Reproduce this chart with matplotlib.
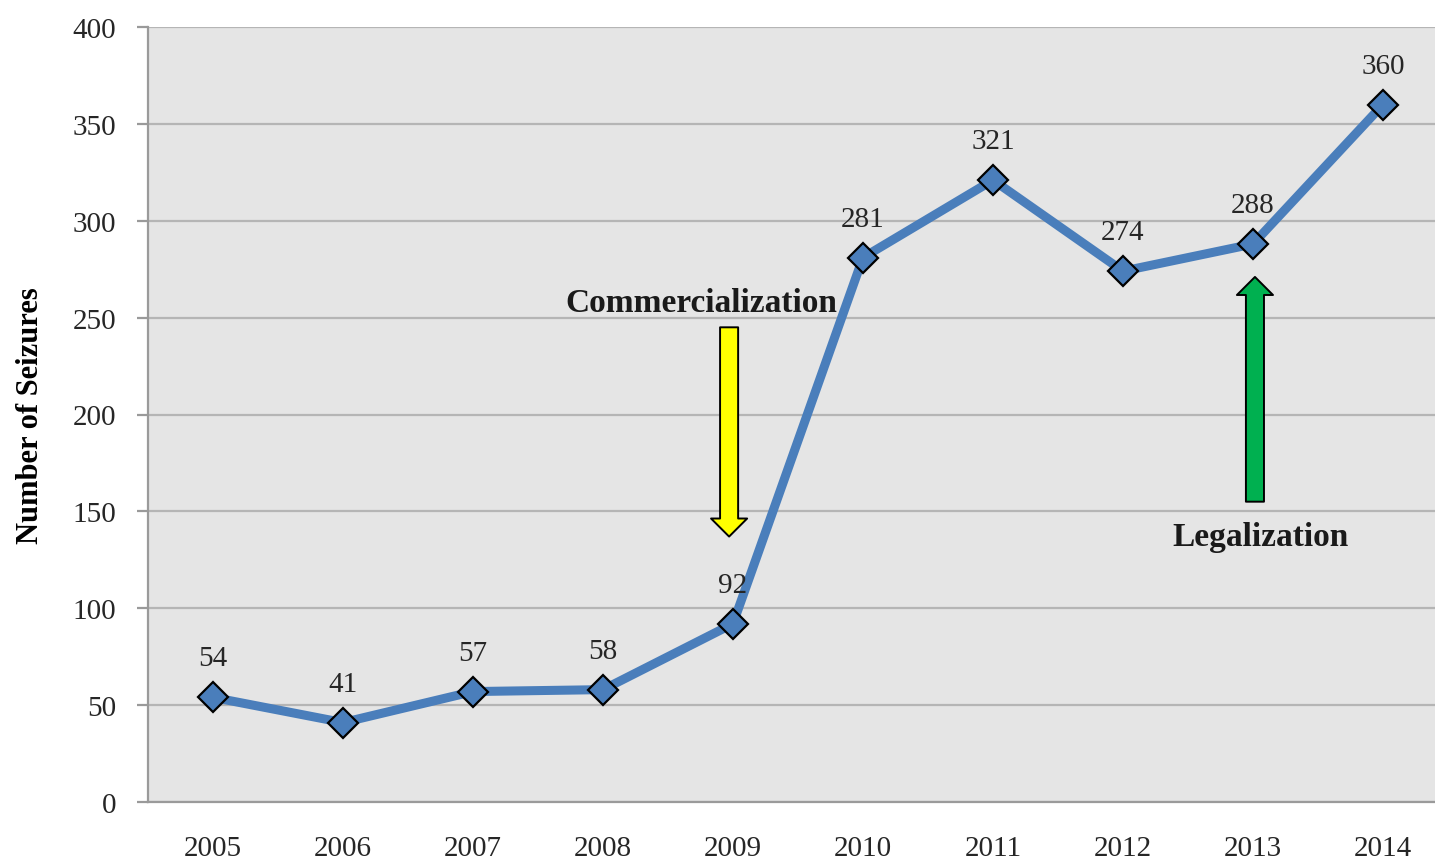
import matplotlib
matplotlib.use("Agg")
import matplotlib.pyplot as plt

years = ["2005", "2006", "2007", "2008", "2009", "2010", "2011", "2012", "2013", "2014"]
seizures = [54, 41, 57, 58, 92, 281, 321, 274, 288, 360]
y_ticks = [0, 50, 100, 150, 200, 250, 300, 350, 400]

plt.rcParams['font.family'] = ['Liberation Serif', 'DejaVu Serif']

fig = plt.figure(figsize=(14.35, 8.62), dpi=100)
ax = fig.add_axes([148 / 1435, 59 / 862, 1300 / 1435, 775 / 862])
ax.set_facecolor('#e5e5e5')

x = list(range(len(years)))
ax.plot(x, seizures, color='#4a7ebb', lw=6.5, marker='D', ms=15,
        mfc='#4a7ebb', mec='black', mew=1.6, zorder=3, solid_joinstyle='round')

for xi, v in zip(x, seizures):
    ax.annotate(str(v), (xi, v), xytext=(0, 28), textcoords='offset points',
                ha='center', va='center', fontsize=21, color='#262626')

ax.set_xlim(-0.5, len(years) - 0.5)
ax.set_ylim(0, 400)
ax.set_yticks(y_ticks)
ax.set_xticks(x)
ax.set_xticklabels(years)
ax.yaxis.grid(True, color='#b5b5b5', lw=1.6)
ax.set_axisbelow(True)

for s in ['top', 'right']:
    ax.spines[s].set_visible(False)
for s in ['left', 'bottom']:
    ax.spines[s].set_color('#9a9a9a')
    ax.spines[s].set_linewidth(1.6)

ax.tick_params(axis='y', length=8, width=1.6, color='#9a9a9a', pad=15,
               labelsize=21, labelcolor='#262626')
ax.tick_params(axis='x', length=0, pad=24, labelsize=21, labelcolor='#262626')

ax.set_ylabel('Number of Seizures', fontsize=22, fontweight='bold', labelpad=20)

# event arrows
ax.annotate('', xy=(3.97, 137), xytext=(3.97, 245),
            arrowprops=dict(arrowstyle='simple,head_width=1.3,head_length=0.65,tail_width=0.65',
                            mutation_scale=20, fc='#ffff00', ec='black', lw=1.4,
                            shrinkA=0, shrinkB=0))
ax.text(3.76, 258, 'Commercialization', ha='center', va='center',
        fontsize=24, fontweight='bold', color='#1a1a1a')

ax.annotate('', xy=(8.015, 271), xytext=(8.015, 155),
            arrowprops=dict(arrowstyle='simple,head_width=1.3,head_length=0.65,tail_width=0.65',
                            mutation_scale=20, fc='#00b050', ec='black', lw=1.4,
                            shrinkA=0, shrinkB=0))
ax.text(8.06, 137, 'Legalization', ha='center', va='center',
        fontsize=24, fontweight='bold', color='#1a1a1a')

fig.savefig('out.png', dpi=100)
